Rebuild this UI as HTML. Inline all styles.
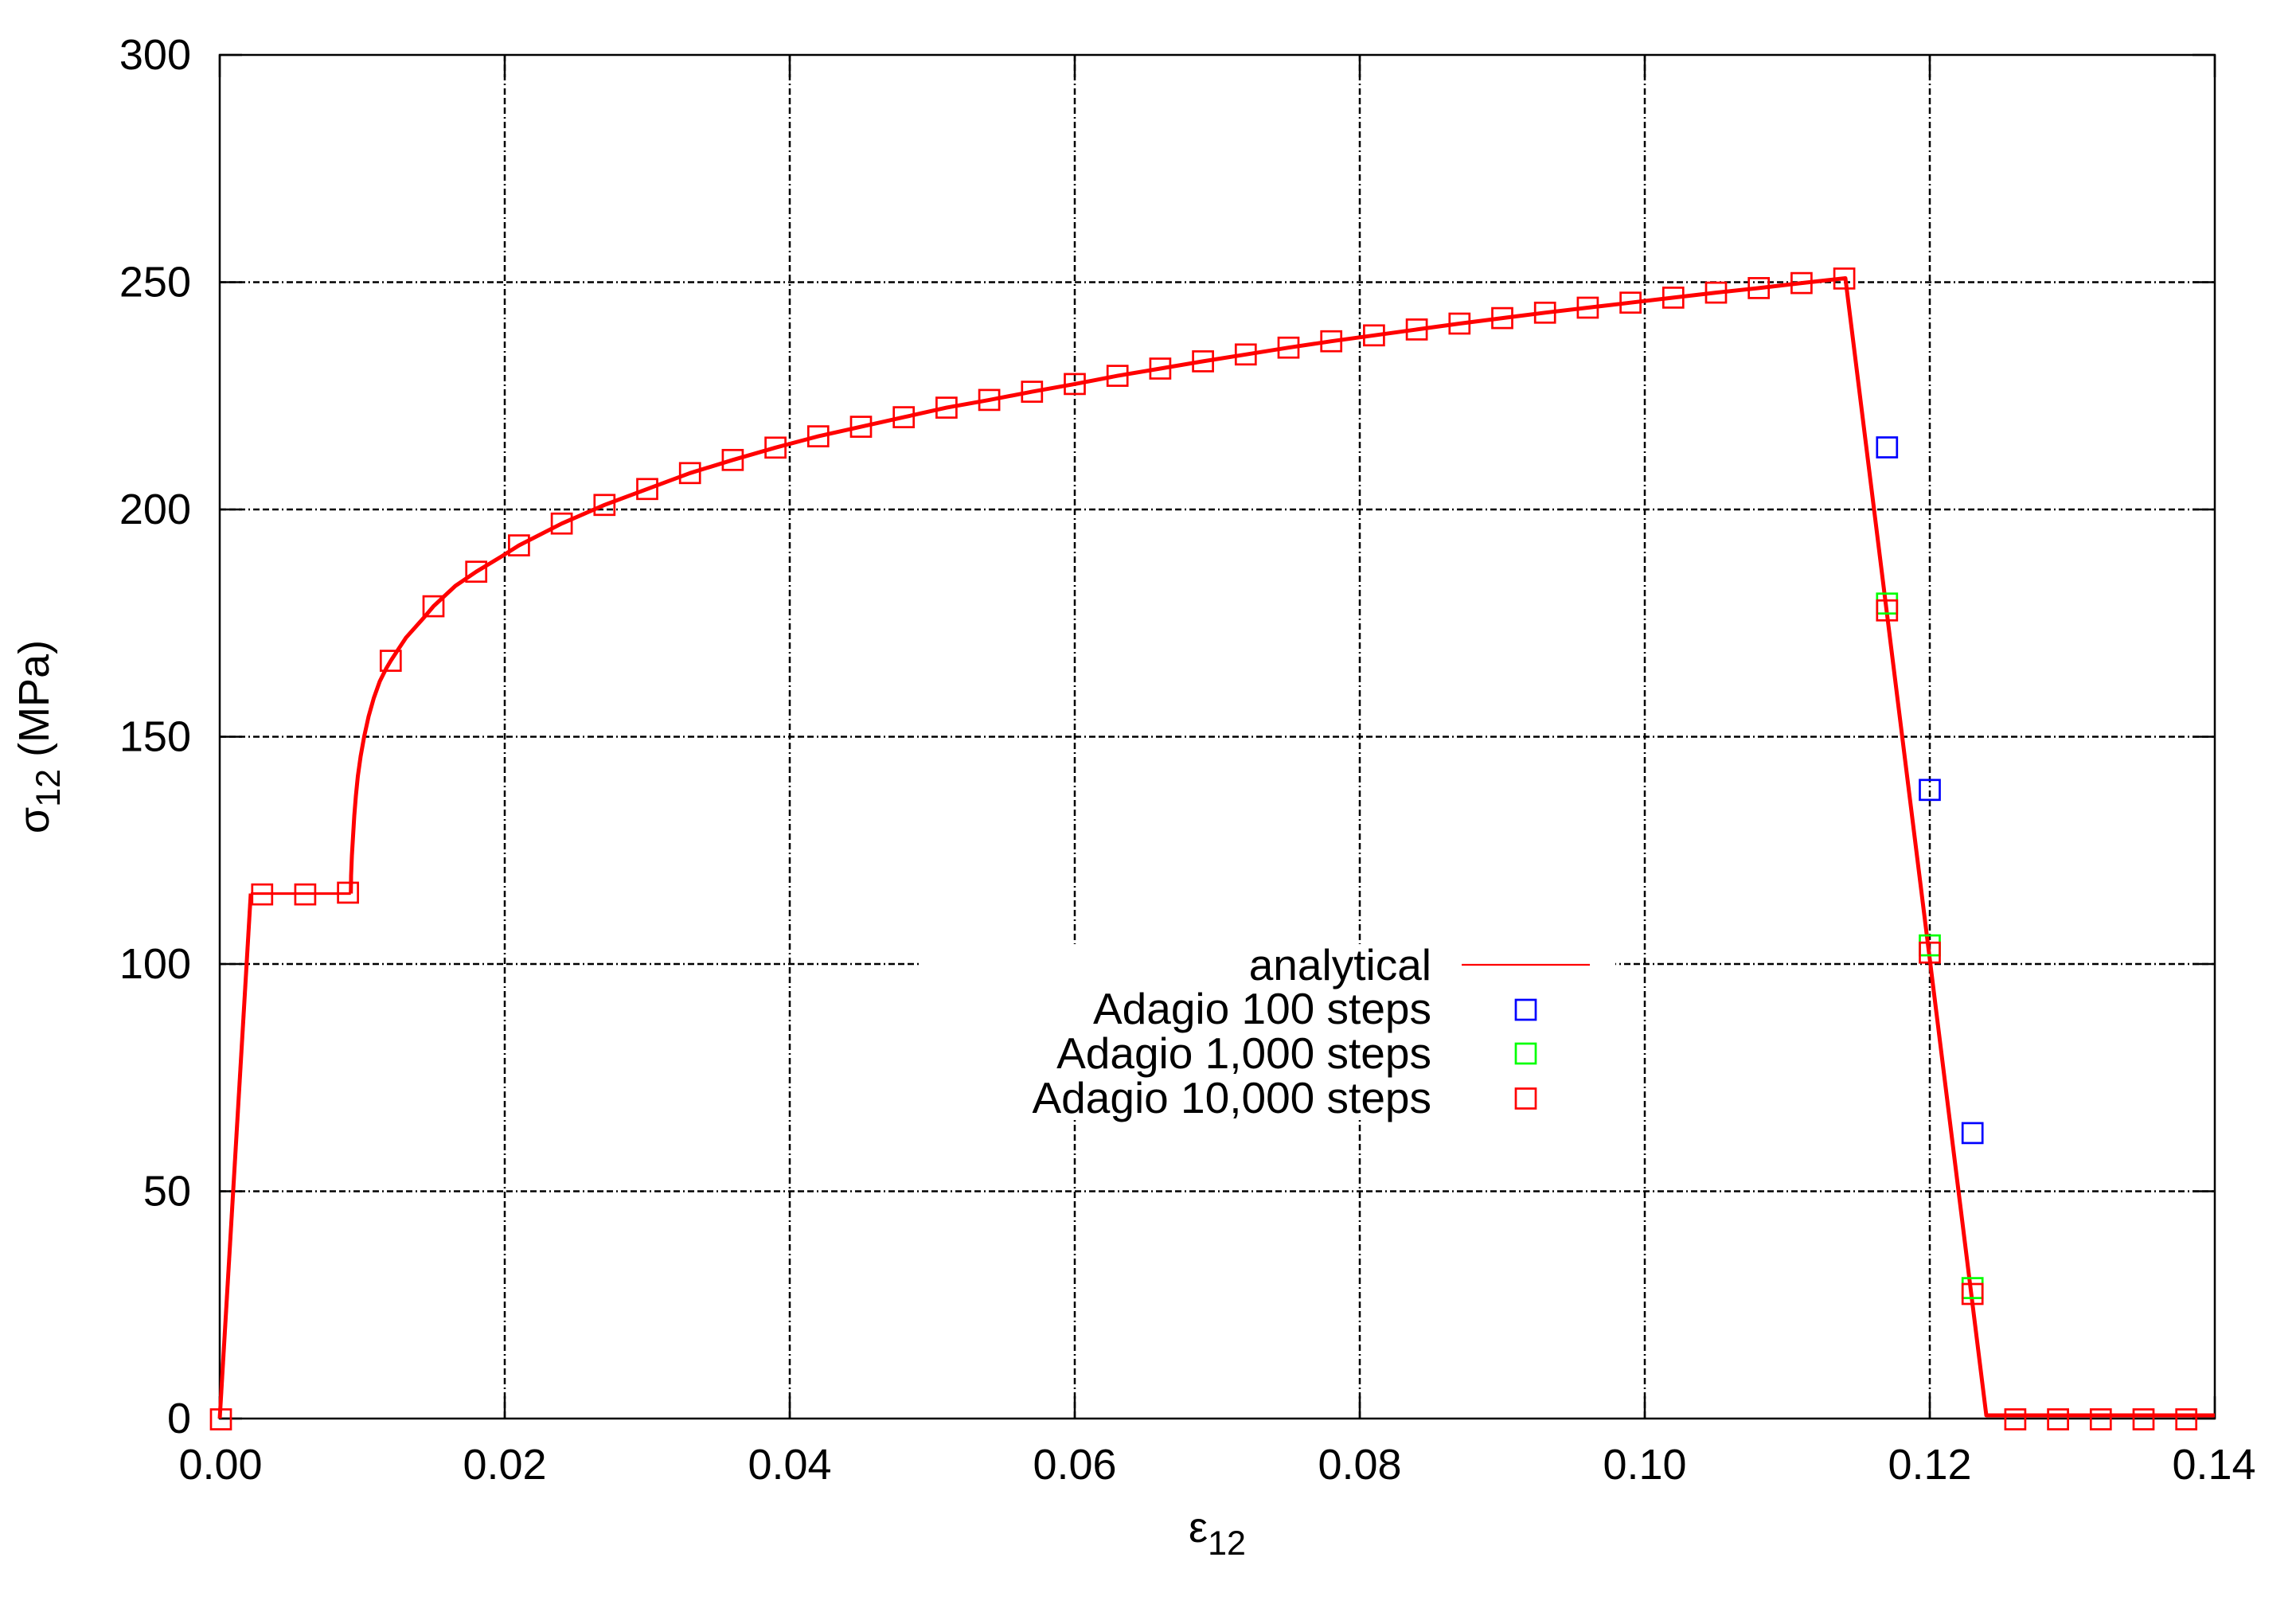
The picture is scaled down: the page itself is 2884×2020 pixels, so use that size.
<!DOCTYPE html>
<html>
<head>
<meta charset="utf-8">
<style>
  html, body { margin: 0; padding: 0; background: #ffffff; }
  svg { display: block; }
  text { font-family: "Liberation Sans", Arial, sans-serif; fill: #000; }
</style>
</head>
<body>
<svg xmlns="http://www.w3.org/2000/svg" width="2884" height="2020" viewBox="0 0 2884 2020">
  <defs>
    <rect id="s" x="-12.5" y="-12.5" width="25" height="25"/>
  </defs>
  <rect x="0" y="0" width="2884" height="2020" fill="#ffffff"/>

  <!-- grid lines -->
  <g stroke="#000" stroke-width="2.5" stroke-dasharray="8,4,8,4,8,4,2,4" fill="none">
    <line x1="634" y1="69" x2="634" y2="1782"/>
    <line x1="992" y1="69" x2="992" y2="1782"/>
    <line x1="1350" y1="69" x2="1350" y2="1782"/>
    <line x1="1708" y1="69" x2="1708" y2="1782"/>
    <line x1="2066" y1="69" x2="2066" y2="1782"/>
    <line x1="2424" y1="69" x2="2424" y2="1782"/>
    <line x1="276" y1="1496.5" x2="2782" y2="1496.5"/>
    <line x1="276" y1="1211" x2="2782" y2="1211"/>
    <line x1="276" y1="925.5" x2="2782" y2="925.5"/>
    <line x1="276" y1="640" x2="2782" y2="640"/>
    <line x1="276" y1="354.5" x2="2782" y2="354.5"/>
  </g>

  <!-- ticks -->
  <g stroke="#000" stroke-width="2.5" fill="none">
    <path d="M276,1782V1754 M634,1782V1754 M992,1782V1754 M1350,1782V1754 M1708,1782V1754 M2066,1782V1754 M2424,1782V1754 M2782,1782V1754"/>
    <path d="M276,69V97 M634,69V97 M992,69V97 M1350,69V97 M1708,69V97 M2066,69V97 M2424,69V97 M2782,69V97"/>
    <path d="M276,1782H304 M276,1496.5H304 M276,1211H304 M276,925.5H304 M276,640H304 M276,354.5H304 M276,69H304"/>
    <path d="M2782,1782H2754 M2782,1496.5H2754 M2782,1211H2754 M2782,925.5H2754 M2782,640H2754 M2782,354.5H2754 M2782,69H2754"/>
  </g>

  <!-- legend background -->
  <rect x="1158" y="1186" width="871" height="220" fill="#ffffff"/>

  <!-- frame -->
  <rect x="276" y="69" width="2506" height="1713" fill="none" stroke="#000" stroke-width="2.5"/>

  <!-- analytical curve -->
  <g fill="none" stroke="#ff0000" stroke-linejoin="round">
    <path stroke-width="5" d="M276,1782 L315,1122.5"/>
    <path stroke-width="3.2" d="M315,1122.5 L440.7,1122.5"/>
    <path stroke-width="5" d="M440.7,1122.5 L441,1100 L442,1075 L443.5,1050 L445,1025 L447,1000 L449.5,975 L453,950 L457.5,925 L463,900 L469.5,877 L477,856 L485,840 L490.8,830.1 L510,801 L531.7,776.7 L544.5,761.6 L572,736 L598.2,718.2 L630,699 L651.9,685.1 L705.6,657.7 L759.3,634.3 L813,614.3 L866.7,594.3 L920.4,577.8 L974.1,562.3 L1027.8,548.1 L1081.5,536.1 L1135.2,524.1 L1188.9,512.1 L1242.6,502.4 L1296.3,492.1 L1350,482.4 L1403.7,472.1 L1457.4,463 L1511.1,453.9 L1564.8,445.3 L1618.5,436.7 L1672.2,428.7 L1725.9,421.3 L1779.6,413.9 L1833.3,406.5 L1887,399.6 L1940.7,392.8 L1994.4,386.5 L2048.1,380.2 L2101.8,373.9 L2155.5,367.6 L2209.2,361.9 L2262.9,355.6 L2318,349.5 L2495,1778 L2782,1778"/>
  </g>

  <!-- Adagio 100 steps (blue) -->
  <g fill="none" stroke="#0000ff" stroke-width="2.7">
    <use href="#s" x="2370.3" y="562"/>
    <use href="#s" x="2424" y="992.3"/>
    <use href="#s" x="2477.7" y="1423.4"/>
    <use href="#s" x="1916.5" y="1268.5"/>
  </g>

  <!-- Adagio 1,000 steps (green) -->
  <g fill="none" stroke="#00ff00" stroke-width="2.7">
    <use href="#s" x="2370.3" y="758.2"/>
    <use href="#s" x="2424" y="1187.6"/>
    <use href="#s" x="2477.7" y="1618.1"/>
    <use href="#s" x="1916.5" y="1323.5"/>
  </g>

  <!-- Adagio 10,000 steps (red) -->
  <g fill="none" stroke="#ff0000" stroke-width="2.7">
    <use href="#s" x="277.5" y="1783"/>
    <use href="#s" x="329.3" y="1123.6"/>
    <use href="#s" x="383.4" y="1123.6"/>
    <use href="#s" x="437.1" y="1121.4"/>
    <use href="#s" x="490.8" y="830.1"/>
    <use href="#s" x="544.5" y="761.6"/>
    <use href="#s" x="598.2" y="718.2"/>
    <use href="#s" x="651.9" y="685.1"/>
    <use href="#s" x="705.6" y="657.7"/>
    <use href="#s" x="759.3" y="634.3"/>
    <use href="#s" x="813" y="614.3"/>
    <use href="#s" x="866.7" y="594.3"/>
    <use href="#s" x="920.4" y="577.8"/>
    <use href="#s" x="974.1" y="562.3"/>
    <use href="#s" x="1027.8" y="548.1"/>
    <use href="#s" x="1081.5" y="536.1"/>
    <use href="#s" x="1135.2" y="524.1"/>
    <use href="#s" x="1188.9" y="512.1"/>
    <use href="#s" x="1242.6" y="502.4"/>
    <use href="#s" x="1296.3" y="492.1"/>
    <use href="#s" x="1350" y="482.4"/>
    <use href="#s" x="1403.7" y="472.1"/>
    <use href="#s" x="1457.4" y="463"/>
    <use href="#s" x="1511.1" y="453.9"/>
    <use href="#s" x="1564.8" y="445.3"/>
    <use href="#s" x="1618.5" y="436.7"/>
    <use href="#s" x="1672.2" y="428.7"/>
    <use href="#s" x="1725.9" y="421.3"/>
    <use href="#s" x="1779.6" y="413.9"/>
    <use href="#s" x="1833.3" y="406.5"/>
    <use href="#s" x="1887" y="399.6"/>
    <use href="#s" x="1940.7" y="392.8"/>
    <use href="#s" x="1994.4" y="386.5"/>
    <use href="#s" x="2048.1" y="380.2"/>
    <use href="#s" x="2101.8" y="373.9"/>
    <use href="#s" x="2155.5" y="367.6"/>
    <use href="#s" x="2209.2" y="361.9"/>
    <use href="#s" x="2262.9" y="355.6"/>
    <use href="#s" x="2316.6" y="349.9"/>
    <use href="#s" x="2370.3" y="766.8"/>
    <use href="#s" x="2424" y="1196.7"/>
    <use href="#s" x="2477.7" y="1625.5"/>
    <use href="#s" x="2531.4" y="1783"/>
    <use href="#s" x="2585.1" y="1783"/>
    <use href="#s" x="2638.8" y="1783"/>
    <use href="#s" x="2692.5" y="1783"/>
    <use href="#s" x="2746.2" y="1783"/>
    <use href="#s" x="1916.5" y="1380"/>
  </g>

  <!-- legend sample line -->
  <line x1="1836" y1="1212" x2="1997" y2="1212" stroke="#ff0000" stroke-width="2.2"/>

  <!-- legend text -->
  <g font-size="55" text-anchor="end">
    <text x="1798" y="1231">analytical</text>
    <text x="1798" y="1286">Adagio 100 steps</text>
    <text x="1798" y="1342">Adagio 1,000 steps</text>
    <text x="1798" y="1398">Adagio 10,000 steps</text>
  </g>

  <!-- y tick labels -->
  <g font-size="54" text-anchor="end">
    <text x="240" y="1800">0</text>
    <text x="240" y="1514.5">50</text>
    <text x="240" y="1229">100</text>
    <text x="240" y="943.5">150</text>
    <text x="240" y="658">200</text>
    <text x="240" y="372.5">250</text>
    <text x="240" y="87">300</text>
  </g>

  <!-- x tick labels -->
  <g font-size="54" text-anchor="middle">
    <text x="277" y="1858">0.00</text>
    <text x="634" y="1858">0.02</text>
    <text x="992" y="1858">0.04</text>
    <text x="1350" y="1858">0.06</text>
    <text x="1708" y="1858">0.08</text>
    <text x="2066" y="1858">0.10</text>
    <text x="2424" y="1858">0.12</text>
    <text x="2781" y="1858">0.14</text>
  </g>

  <!-- axis labels -->
  <text x="1529" y="1937" font-size="54" text-anchor="middle">ε<tspan font-size="43" dy="16">12</tspan></text>
  <text transform="translate(61,925.5) rotate(-90)" font-size="54" text-anchor="middle">σ<tspan font-size="43" dy="14">12</tspan><tspan dy="-14"> (MPa)</tspan></text>
</svg>
</body>
</html>
